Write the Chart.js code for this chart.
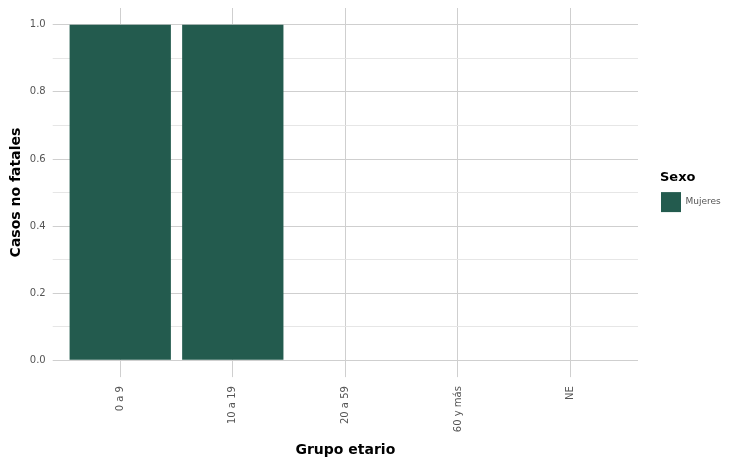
<!DOCTYPE html>
<html>
<head>
<meta charset="utf-8">
<script src="https://cdn.jsdelivr.net/npm/chart.js@4/dist/chart.umd.min.js"></script>
<style>
html,body{margin:0;padding:0;background:#fff;}
canvas{display:block;}
</style>
</head>
<body>
<canvas id="c" width="730" height="461"></canvas>
<script>
const categories = ["0 a 9", "10 a 19", "20 a 59", "60 y más", "NE"];
const mujeres = [1, 1, 0, 0, 0];
const yTicks = [0, 0.1, 0.2, 0.3, 0.4, 0.5, 0.6, 0.7, 0.8, 0.9, 1.0];
const seriesName = "Mujeres";
const legendTitle = "Sexo";

const FONT = "'DejaVu Sans', sans-serif";

new Chart(document.getElementById('c'), {
  type: 'bar',
  data: {
    datasets: [{
      label: seriesName,
      data: categories.map((c, i) => ({x: i + 1, y: mujeres[i]})),
      backgroundColor: '#235B4E',
      borderWidth: 0,
      barPercentage: 0.9,
      categoryPercentage: 1.0
    }]
  },
  options: {
    responsive: false,
    animation: false,
    layout: {padding: {left: 8, top: 8, right: 0, bottom: 2}},
    plugins: {
      tooltip: {enabled: false},
      legend: {
        position: 'right',
        align: 'start',
        maxWidth: 70,
        title: {display: true, position: 'start', text: legendTitle, color: '#000', font: {family: FONT, size: 13, weight: 'bold'}, padding: {top: 163.5, bottom: 4}},
        labels: {boxWidth: 20, boxHeight: 20, color: '#555', font: {family: FONT, size: 9}, padding: 1}
      }
    },
    scales: {
      x: {
        type: 'linear',
        offset: false,
        min: 0.4,
        max: 5.6,
        afterBuildTicks: s => { s.ticks = categories.map((c, i) => ({value: i + 1})); },
        ticks: {
          autoSkip: false,
          minRotation: 90,
          maxRotation: 90,
          padding: 9,
          color: '#555',
          font: {family: FONT, size: 10},
          callback: v => categories[Math.round(v) - 1]
        },
        grid: {offset: false, color: '#cfcfcf', lineWidth: 1, tickLength: 0},
        border: {display: false},
        title: {display: true, text: 'Grupo etario', color: '#000', font: {family: FONT, size: 14, weight: 'bold'}, padding: {top: 1, bottom: 0}}
      },
      y: {
        type: 'linear',
        min: -0.05,
        max: 1.05,
        afterBuildTicks: s => { s.ticks = yTicks.map(v => ({value: v})); },
        afterFit: s => { s.paddingTop = 0; s.paddingBottom = 0; },
        ticks: {
          autoSkip: false,
          padding: 7,
          color: '#555',
          font: {family: FONT, size: 10},
          callback: v => (Math.round(v * 10) % 2 === 0 ? v.toFixed(1) : '')
        },
        grid: {
          tickLength: 0,
          lineWidth: 1,
          color: ctx => (ctx.tick && Math.round(ctx.tick.value * 10) % 2 === 0 ? '#cfcfcf' : '#e6e6e6')
        },
        border: {display: false},
        title: {display: true, text: 'Casos no fatales', color: '#000', font: {family: FONT, size: 14, weight: 'bold'}, padding: {top: 0, bottom: -2}}
      },
      spacer: {
        type: 'linear',
        axis: 'y',
        position: 'right',
        display: true,
        grid: {display: false},
        border: {display: false},
        ticks: {display: false},
        afterFit: s => { s.width = 22; s.paddingTop = 0; s.paddingBottom = 0; }
      }
    }
  }
});
</script>
</body>
</html>
